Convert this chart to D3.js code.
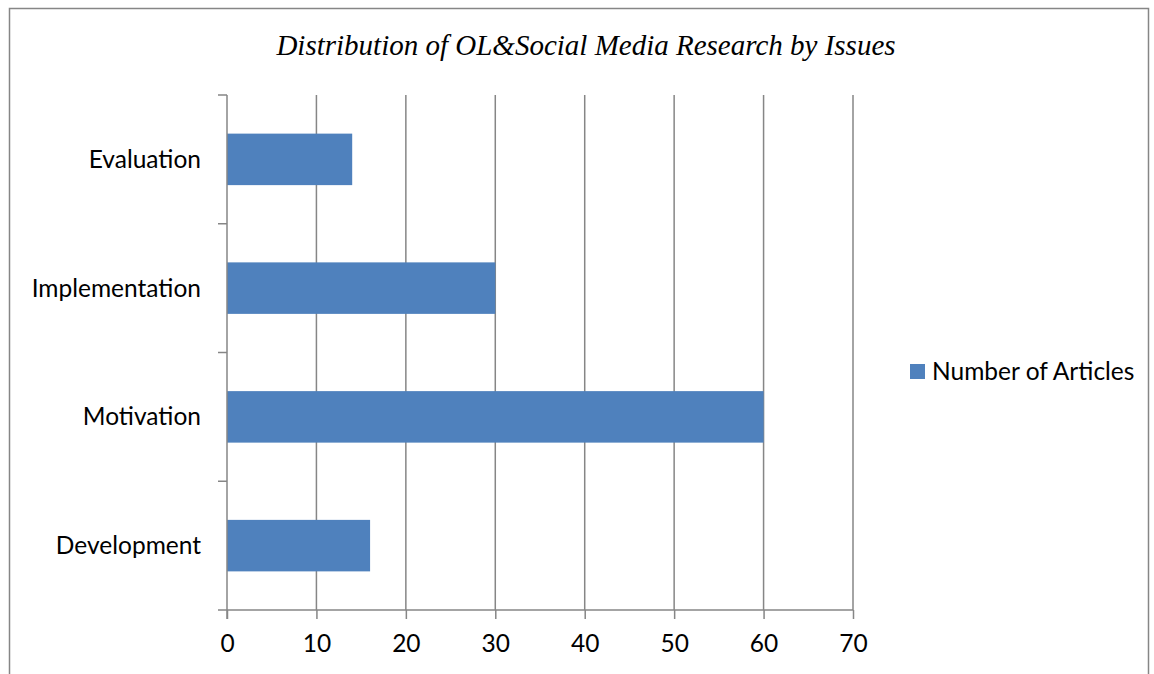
<!DOCTYPE html>
<html><head><meta charset="utf-8">
<script src="https://cdn.jsdelivr.net/npm/d3@7"></script>
<style>body{margin:0;background:#fff;}svg{display:block;}</style>
</head><body>
<svg id="c" width="1154" height="674"></svg>
<script>
const categories = ["Development", "Motivation", "Implementation", "Evaluation"];
const values = [16, 60, 30, 14];
const xTicks = [0, 10, 20, 30, 40, 50, 60, 70];
const seriesName = "Number of Articles";
const title = "Distribution of OL&Social Media Research by Issues";

(function () {
const svg = d3.select("#c");
const pLeft = 227, pRight = 853, pTop = 95, pBottom = 610;
const grey = "#868686";
const font = "Lato, 'Open Sans', sans-serif";
const fs = 24.5;

svg.append("rect").attr("x", 9.5).attr("y", 8.5).attr("width", 1139).attr("height", 700)
  .attr("fill", "none").attr("stroke", "#868686").attr("stroke-width", 1.5);

const x = d3.scaleLinear().domain([0, 70]).range([pLeft, pRight]);
const y = d3.scaleBand().domain(categories.slice().reverse()).range([pTop, pBottom]).paddingInner(0.6).paddingOuter(0.3);
const yb = d3.scaleBand().domain(categories.slice().reverse()).range([pTop, pBottom]);

// gridlines
svg.append("g").selectAll("line").data(xTicks.slice(1)).join("line")
  .attr("x1", d => x(d)).attr("x2", d => x(d)).attr("y1", pTop).attr("y2", pBottom)
  .attr("stroke", grey).attr("stroke-width", 1.5);

// bars
svg.append("g").selectAll("rect").data(categories).join("rect")
  .attr("x", x(0)).attr("y", (d) => y(d)).attr("height", y.bandwidth())
  .attr("width", (d, i) => x(values[i]) - x(0)).attr("fill", "#4F81BD");

// x axis
const xa = svg.append("g").attr("transform", `translate(0,${pBottom})`)
  .call(d3.axisBottom(x).tickValues(xTicks).tickSize(9).tickPadding(16));
xa.select(".domain").remove();
xa.selectAll(".tick line").attr("stroke", grey).attr("stroke-width", 1.5);
xa.selectAll("text").attr("font-family", font).attr("font-size", fs).attr("fill", "#000");
svg.append("line").attr("x1", 218).attr("x2", pRight).attr("y1", pBottom).attr("y2", pBottom)
  .attr("stroke", grey).attr("stroke-width", 1.5);

// y axis
svg.append("line").attr("x1", pLeft).attr("x2", pLeft).attr("y1", pTop).attr("y2", pBottom + 9)
  .attr("stroke", grey).attr("stroke-width", 1.5);
const boundaries = categories.map(c => yb(c));
svg.append("g").selectAll("line").data(boundaries).join("line")
  .attr("x1", 218).attr("x2", pLeft).attr("y1", d => d).attr("y2", d => d)
  .attr("stroke", grey).attr("stroke-width", 1.5);
svg.append("g").selectAll("text").data(categories).join("text")
  .attr("x", 201).attr("y", d => yb(d) + yb.bandwidth() / 2).attr("dy", "0.35em")
  .attr("text-anchor", "end").attr("font-family", font).attr("font-size", fs).attr("fill", "#000")
  .text(d => d);

// title
svg.append("text").attr("x", 586).attr("y", 55).attr("text-anchor", "middle")
  .attr("font-family", "'Liberation Serif', 'Times New Roman', serif").attr("font-style", "italic")
  .attr("font-size", 29).attr("fill", "#000").text(title);

// legend
svg.append("rect").attr("x", 910).attr("y", 364).attr("width", 15).attr("height", 15).attr("fill", "#4F81BD");
svg.append("text").attr("x", 932).attr("y", 371).attr("dy", "0.35em").attr("font-family", font)
  .attr("font-size", fs).attr("fill", "#000").text(seriesName);
})();
</script>
</body></html>
